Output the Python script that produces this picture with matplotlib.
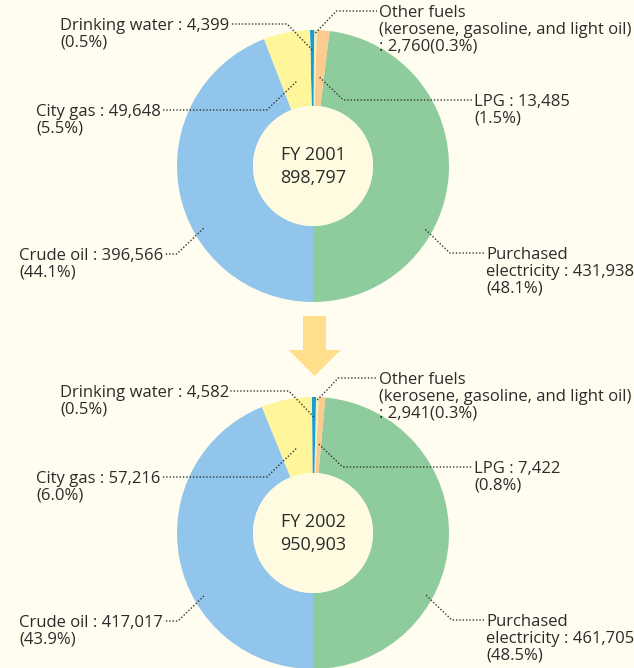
import matplotlib
matplotlib.use('Agg')
import matplotlib.pyplot as plt
from matplotlib.patches import Circle, FancyArrow
import numpy as np

# Energy consumption by source (GJ-ish units as printed)
sources = ['Purchased electricity', 'LPG', 'Other fuels', 'Drinking water', 'City gas', 'Crude oil']
fy2001 = [431938, 13485, 2760, 4399, 49648, 396566]
fy2002 = [461705, 7422, 2941, 4582, 57216, 417017]
pct2001 = ['48.1%', '1.5%', '0.3%', '0.5%', '5.5%', '44.1%']
pct2002 = ['48.5%', '0.8%', '0.3%', '0.5%', '6.0%', '43.9%']
totals = ['898,797', '950,903']
years = ['FY 2001', 'FY 2002']

colors = ['#8fcc9d', '#fdcb8e', '#e9f0bd', '#1b9ad6', '#fff59b', '#92c5eb']
bg = '#fffdef'
hole = '#fffbe0'
txt = '#2b2b2b'

W, H = 634, 668
plt.rcParams['font.family'] = ['Open Sans', 'DejaVu Sans']
fig = plt.figure(figsize=(W / 100, H / 100), dpi=100, facecolor=bg)
ax = fig.add_axes([0, 0, 1, 1])
ax.set_facecolor(bg)

R_OUT, R_IN = 136, 60
centers = [(313, 166), (313, 533)]   # image pixel coords (y down)
FS = 12

# label layout relative to donut centre: text-left dx, first line dy, side, anchor frac, anchor radius
layout = {
    'Purchased electricity': dict(tx=173, ty=88, side=1, frac=0.35, r=129),
    'LPG': dict(tx=161, ty=-65, side=1, frac=0.5, r=89),
    'Other fuels': dict(tx=66, ty=-154, side=1, frac=0.5, r=133),
    'Drinking water': dict(tx=-253, ty=-141, side=-1, frac=0.5, r=116),
    'City gas': dict(tx=-277, ty=-55, side=-1, frac=0.5, r=86),
    'Crude oil': dict(tx=-294, ty=89, side=-1, frac=0.62, r=126),
}


def label_text(name, val, pct):
    v = f'{val:,}'
    if name == 'Purchased electricity':
        return f'Purchased\nelectricity : {v}\n({pct})'
    if name == 'Other fuels':
        return f'Other fuels\n(kerosene, gasoline, and light oil)\n: {v}({pct})'
    return f'{name} : {v}\n({pct})'


pending = []
for (cx, cy), vals, pcts, yr, tot in zip(centers, [fy2001, fy2002], [pct2001, pct2002], years, totals):
    Y = H - cy
    wedges, _ = ax.pie(vals, colors=colors, startangle=270, counterclock=True,
                       radius=R_OUT, center=(cx, Y),
                       wedgeprops=dict(width=R_OUT - R_IN, linewidth=0))
    ax.add_patch(Circle((cx, Y), R_IN, facecolor=hole, edgecolor='none', zorder=3))
    ax.text(cx, Y + 11, yr, ha='center', va='center', fontsize=13, color=txt, zorder=4)
    ax.text(cx, Y - 12, tot, ha='center', va='center', fontsize=13, color=txt, zorder=4)

    for w, name, val, pct in zip(wedges, sources, vals, pcts):
        lay = layout[name]
        ang = np.deg2rad(w.theta1 + lay['frac'] * (w.theta2 - w.theta1))
        axp = cx + lay['r'] * np.cos(ang)
        ayp = Y + lay['r'] * np.sin(ang)
        ly = Y - lay['ty']
        elbow_x = axp + lay['side'] * abs(ly - ayp)
        t = ax.text(cx + lay['tx'], ly + 7, label_text(name, val, pct), ha='left', va='top',
                    fontsize=FS, color=txt, linespacing=1.08, zorder=4)
        pending.append((t, lay['side'], axp, ayp, elbow_x, ly + 1))

# arrow between the two years
ax.add_patch(FancyArrow(314.5, H - 316, 0, -60, width=23, head_width=52, head_length=26,
                        length_includes_head=True, facecolor='#ffdf8c', edgecolor='none'))

ax.set_xlim(0, W)
ax.set_ylim(0, H)
ax.set_aspect('auto')
ax.axis('off')

# leader lines, once text sizes are known
fig.canvas.draw()
r = fig.canvas.get_renderer()
for t, side, axp, ayp, ex, ly in pending:
    bb = t.get_window_extent(renderer=r)
    end_x = bb.x1 + 1 if side < 0 else bb.x0 - 2
    ax.plot([axp, ex, end_x], [ayp, ly, ly], color='#333333', lw=1,
            linestyle=(0, (1, 1.4)), zorder=5, solid_capstyle='butt')

fig.savefig('out.png', dpi=100, facecolor=bg)
